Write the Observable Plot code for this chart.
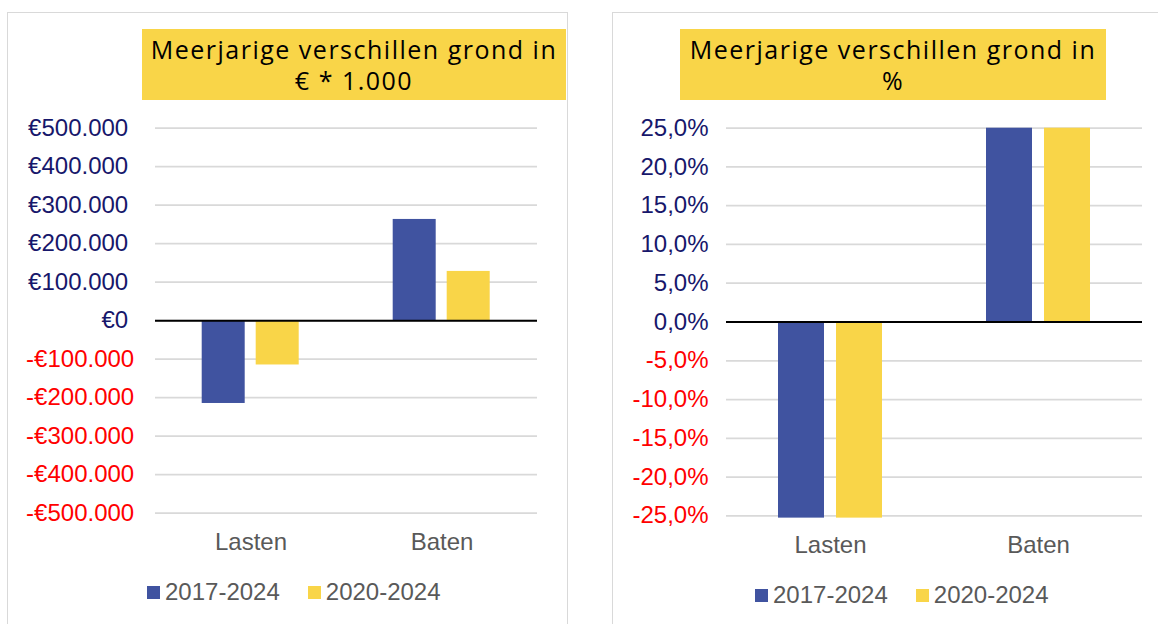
<!DOCTYPE html>
<html><head><meta charset="utf-8">
<script src="https://cdn.jsdelivr.net/npm/d3@7"></script>
<script src="https://cdn.jsdelivr.net/npm/@observablehq/plot@0.6"></script>
<style>
body{margin:0;background:#fff;width:1158px;height:624px;overflow:hidden;position:relative;font-family:"Liberation Sans",Arial,sans-serif;}
.panel{position:absolute;border:1.5px solid #d9d9d9;box-sizing:border-box;}
.title{position:absolute;background:#f9d548;font-family:"Open Sans",sans-serif;font-size:25px;letter-spacing:1.5px;line-height:31px;text-align:center;display:flex;flex-direction:column;justify-content:center;color:#000;}
.chart{position:absolute;}
.legend{position:absolute;display:flex;align-items:center;height:30px;font-size:24px;color:#595959;white-space:nowrap;}
.sw{display:inline-block;width:13px;height:13px;margin-right:5px;}
.item{display:flex;align-items:center;margin-right:28px;}
</style></head><body>
<script>
// ---- data ----
const categories = ["Lasten", "Baten"];
const series = ["2017-2024", "2020-2024"];
const colors = ["#4053a0", "#f9d548"];
const euro2017 = [-215000, 263000];
const euro2020 = [-115000, 128000];
const pct2017 = [-0.253, 0.25];
const pct2020 = [-0.253, 0.25];
const euroTicksPos = [0, 100000, 200000, 300000, 400000, 500000];
const euroTicksNeg = [-100000, -200000, -300000, -400000, -500000];
const pctTicksPos = [0, 0.05, 0.10, 0.15, 0.20, 0.25];
const pctTicksNeg = [-0.05, -0.10, -0.15, -0.20, -0.25];
const titleLeft = ["Meerjarige verschillen grond in", "€ * 1.000"];
const titleRight = ["Meerjarige verschillen grond in", "%"];

const nl = d3.formatLocale({decimal: ",", thousands: ".", grouping: [3], currency: ["€", ""], minus: "-"});
const fmtEuro = nl.format("$,.0f");
const fmtPct = nl.format(".1%");
const navy = "#17176b";
const red = "#ff0000";

function table(a, b) {
  const rows = [];
  categories.forEach((c, i) => {
    rows.push({category: c, series: series[0], value: a[i]});
    rows.push({category: c, series: series[1], value: b[i]});
  });
  return rows;
}

function add(el, cls, css) {
  const d = document.createElement("div");
  d.className = cls;
  Object.assign(d.style, css);
  document.body.appendChild(d);
  return d;
}

function makeChart(opts) {
  return Plot.plot({
    width: opts.width, height: 460,
    marginLeft: opts.ml, marginRight: opts.mr, marginTop: 27.7, marginBottom: opts.mb,
    style: {fontFamily: "'Liberation Sans', Arial, sans-serif", fontSize: "24px", background: "transparent", overflow: "visible"},
    fx: {domain: categories, padding: 0},
    x: {domain: series, paddingInner: 0.21, paddingOuter: 0.87, axis: null},
    y: {domain: opts.domain},
    color: {domain: series, range: colors},
    marks: [
      Plot.ruleY(opts.pos.concat(opts.neg), {stroke: "#d9d9d9", strokeWidth: 1.75}),
      Plot.barY(opts.data, {fx: "category", x: "series", y: "value", fill: "series"}),
      Plot.ruleY([0], {stroke: "#000", strokeWidth: 2}),
      Plot.axisY(opts.pos, {tickSize: 0, tickPadding: opts.padPos, tickFormat: opts.fmt, fill: navy, fontSize: 24, label: null}),
      Plot.axisY(opts.neg, {tickSize: 0, tickPadding: opts.padNeg, tickFormat: opts.fmt, fill: red, fontSize: 24, label: null}),
      Plot.axisFx({anchor: "bottom", tickSize: 0, tickPadding: opts.fxPad, fill: "#595959", fontSize: 24, label: null})
    ]
  });
}

// panels
add(null, "panel", {left: "7px", top: "12px", width: "561px", height: "700px"});
add(null, "panel", {left: "612px", top: "12px", width: "600px", height: "700px"});

// titles
const t1 = add(null, "title", {left: "142px", top: "29px", width: "424px", height: "71px"});
titleLeft.forEach(s => { const d = document.createElement("div"); d.textContent = s; t1.appendChild(d); });
const t2 = add(null, "title", {left: "680px", top: "29px", width: "426px", height: "71px"});
titleRight.forEach(s => { const d = document.createElement("div"); d.textContent = s; t2.appendChild(d); });

// charts
const c1 = add(null, "chart", {left: "0px", top: "100px"});
c1.appendChild(makeChart({width: 566, ml: 154.3, mr: 28.3, mb: 47.3, domain: [-500000, 500000],
  pos: euroTicksPos, neg: euroTicksNeg, padPos: 27.3, padNeg: 21.3, fmt: fmtEuro, fxPad: 20,
  data: table(euro2017, euro2020)}));
const c2 = add(null, "chart", {left: "580px", top: "100px"});
c2.appendChild(makeChart({width: 578, ml: 146, mr: 16, mb: 44.7, domain: [-0.25, 0.25],
  pos: pctTicksPos, neg: pctTicksNeg, padPos: 18, padNeg: 18, fmt: fmtPct, fxPad: 20,
  data: table(pct2017, pct2020)}));

// legends
function legend(left, top) {
  const lg = add(null, "legend", {left: left + "px", top: top + "px"});
  series.forEach((s, i) => {
    const it = document.createElement("span"); it.className = "item";
    const sw = document.createElement("span"); sw.className = "sw"; sw.style.background = colors[i];
    const tx = document.createElement("span"); tx.textContent = s;
    it.appendChild(sw); it.appendChild(tx); lg.appendChild(it);
  });
}
legend(147, 577);
legend(755, 580);
</script>
</body></html>
